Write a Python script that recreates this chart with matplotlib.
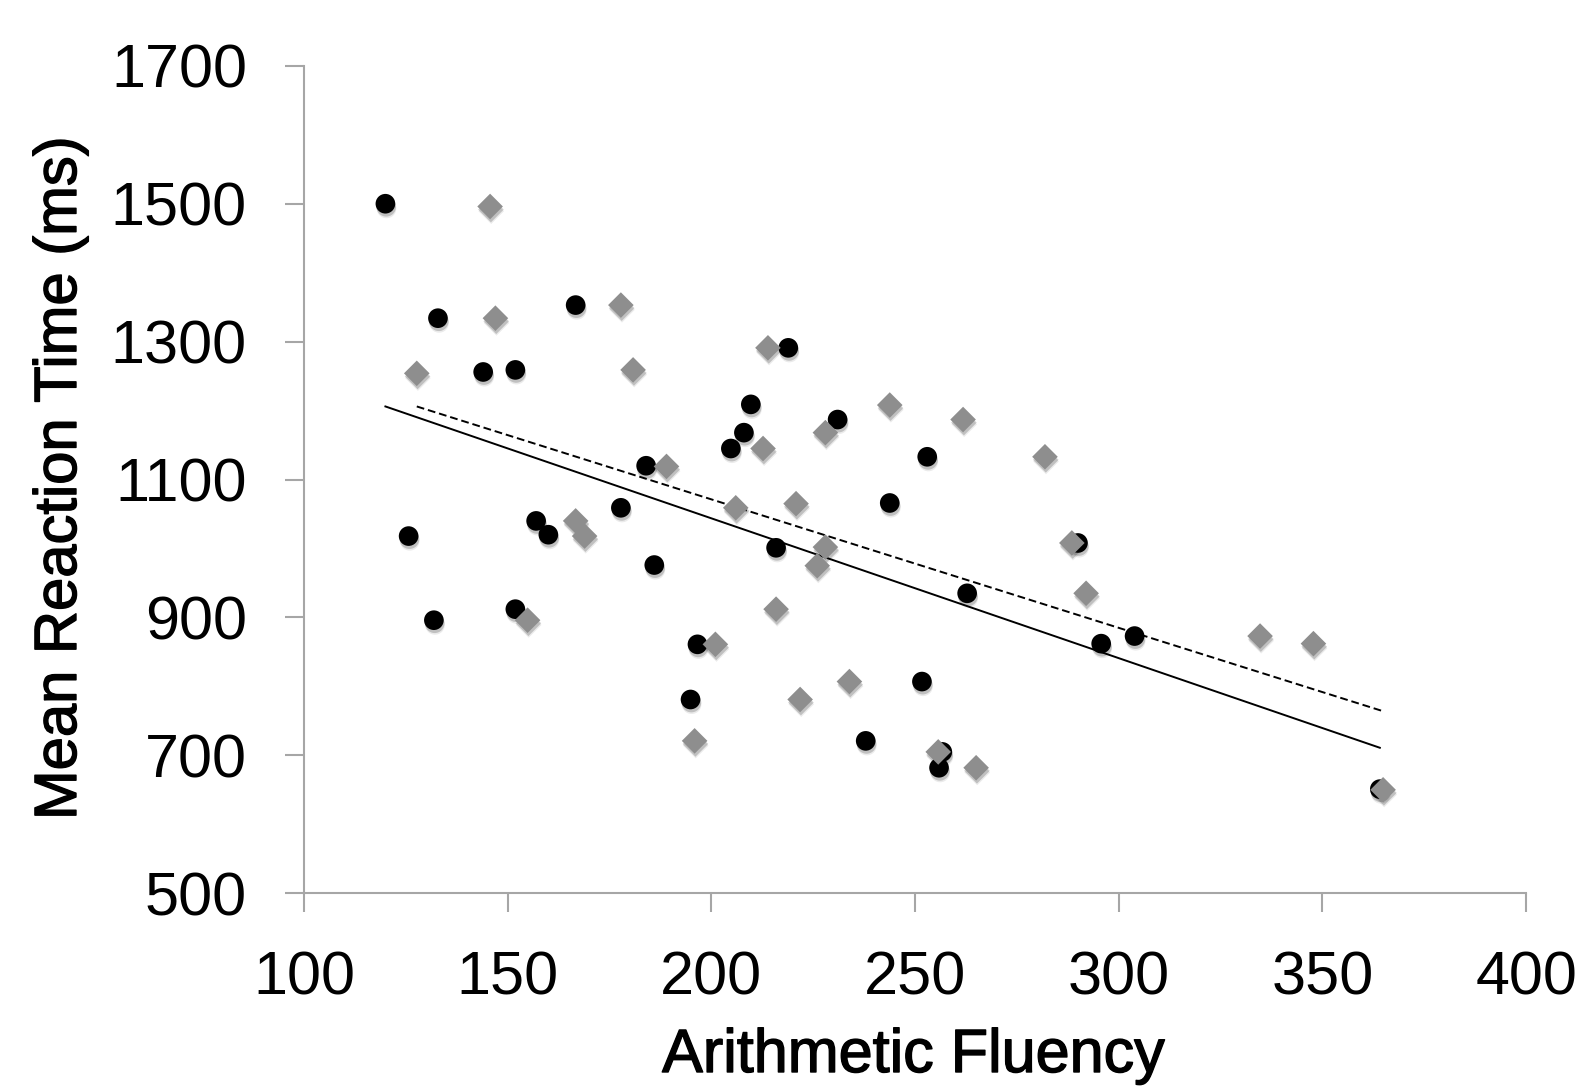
import matplotlib.pyplot as plt
import matplotlib.patheffects as pe
import numpy as np

plt.rcParams["font.family"] = ["Liberation Sans", "DejaVu Sans"]

# black circles
circle_x = [120, 125.7, 131.9, 132.9, 144, 151.9, 151.9, 157, 160, 166.7,
            177.8, 184, 186, 196.6, 194.9, 204.8, 208, 209.7, 215.9, 218.9,
            231, 237.9, 243.8, 251.7, 253, 256.7, 255.9, 262.8, 290, 295.7,
            303.9, 364.1]
circle_y = [1500, 1018, 896, 1334, 1256, 1259, 912, 1040, 1020, 1353,
            1059, 1120, 976, 861, 781, 1145, 1168, 1209, 1001, 1291,
            1187, 721, 1066, 807, 1133, 705, 682, 935, 1008, 862,
            873, 651]

# gray diamonds
diamond_x = [127.7, 145.7, 147, 154.9, 166.7, 168.9, 177.8, 180.8, 189, 195.9,
             201, 206, 212.7, 213.9, 215.9, 220.8, 221.8, 226, 228, 228,
             233.9, 243.8, 255.7, 261.8, 265, 281.9, 288.5, 292, 334.7, 347.8,
             364.9]
diamond_y = [1254, 1496, 1334, 896, 1040, 1018, 1353, 1259, 1119, 721,
             861, 1059, 1145, 1291, 912, 1065, 781, 975, 1168, 1002,
             807, 1208, 705, 1187, 682, 1133, 1008, 935, 873, 862,
             650]

# trend lines (start, end)
solid_x = [120, 364.1]
solid_y = [1206, 711]
dashed_x = [127.7, 364.9]
dashed_y = [1206, 764]

gray = "#8e8e8e"
spine = "#a6a6a6"

fig = plt.figure(figsize=(15.78, 10.88), dpi=100)
ax = fig.add_axes([0.1926, 0.179, 0.7745, 0.7605])

shadow = [pe.SimplePatchShadow(offset=(0.6, -2.2), shadow_rgbFace="k", alpha=0.18),
          pe.SimplePatchShadow(offset=(0.8, -3.4), shadow_rgbFace="k", alpha=0.08),
          pe.Normal()]
heavy = [pe.withStroke(linewidth=1.0, foreground="black")]

ax.plot(solid_x, solid_y, color="black", lw=1.4, zorder=2)
ax.plot(dashed_x, dashed_y, color="black", lw=1.4, ls=(0, (4, 2)), zorder=2)

ax.scatter(circle_x, circle_y, s=200, marker="o", color="black",
           linewidths=0, zorder=3, path_effects=shadow)
ax.scatter(diamond_x, diamond_y, s=170, marker="D", color=gray,
           linewidths=0, zorder=4, path_effects=shadow)

ax.set_xlim(100, 400)
ax.set_ylim(500, 1700)
ax.set_xticks(np.arange(100, 401, 50))
ax.set_yticks(np.arange(500, 1701, 200))

for side in ["top", "right"]:
    ax.spines[side].set_visible(False)
for side in ["left", "bottom"]:
    ax.spines[side].set_color(spine)
    ax.spines[side].set_linewidth(1.5)
ax.tick_params(axis="both", direction="out", length=14, width=1.5,
               color=spine, labelsize=44, pad=27)

fig.text(0.579, 1 - 1028 / 1088, "Arithmetic Fluency", fontsize=44,
         ha="center", va="top", path_effects=heavy)
fig.text(33 / 1578, 1 - 478 / 1088, "Mean Reaction Time (ms)", fontsize=43,
         rotation=90, ha="left", va="center", path_effects=heavy)

plt.savefig("out.png")
